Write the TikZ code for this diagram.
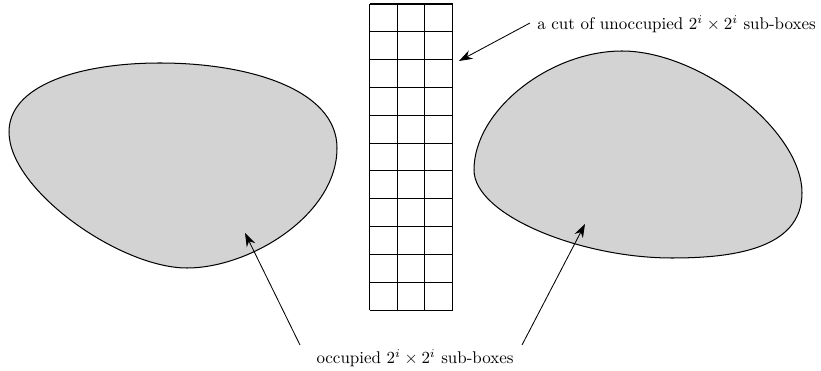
\documentclass[tikz,border=0pt]{standalone}
\usetikzlibrary{arrows.meta}
\begin{document}
\begin{tikzpicture}[x=0.59pt,y=-0.59pt,
  blob/.style={draw=black,fill={rgb,255:red,211;green,211;blue,211},line width=0.6pt},
  arr/.style={-{Stealth[length=8pt,width=5.5pt]},line width=0.5pt},
  gridline/.style={line width=0.6pt},
  lbl/.style={inner sep=0pt,font=\normalsize}]
\useasboundingbox (0,0) rectangle (821,371);
% left blob
\draw[blob] (9,132) .. controls (9,85) and (80,63) .. (160,63)
  .. controls (250,63) and (337,90) .. (337,148)
  .. controls (337,215) and (250,268) .. (187,268)
  .. controls (120,268) and (9,190) .. (9,132) -- cycle;
% right blob
\draw[blob] (474,170) .. controls (474,110) and (550,51) .. (622,51)
  .. controls (700,51) and (802,130) .. (802,193)
  .. controls (802,250) and (730,258) .. (672,258)
  .. controls (580,258) and (474,215) .. (474,170) -- cycle;
% grid
\foreach \i in {0,...,3} {
  \draw[gridline] ({369.5+\i*27.73},4) -- ({369.5+\i*27.73},310);
}
\foreach \j in {0,...,11} {
  \draw[gridline] (369.5,{4+\j*27.82}) -- (452.7,{4+\j*27.82});
}
% labels
\node[lbl,anchor=west] (top) at (537,24) {a cut of unoccupied $2^i\times 2^i$ sub-boxes};
\node[lbl] (bot) at (415,358) {occupied $2^i\times 2^i$ sub-boxes};
% arrow ends
\coordinate (s1) at (530,23);
\coordinate (t1) at (459,61);
\coordinate (s2) at (300,345);
\coordinate (t2) at (245,233);
\coordinate (s3) at (522,345);
\coordinate (t3) at (585,224);
\draw[arr] (s1) -- (t1);
\draw[arr] (s2) -- (t2);
\draw[arr] (s3) -- (t3);
\end{tikzpicture}
\end{document}
